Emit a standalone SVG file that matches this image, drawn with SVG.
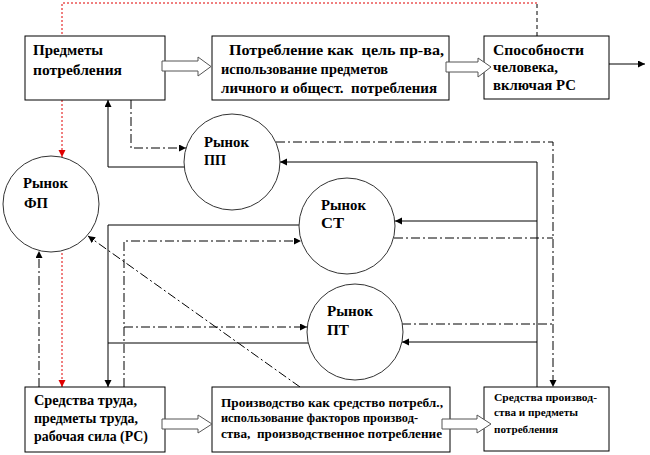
<svg xmlns="http://www.w3.org/2000/svg" width="650" height="455" viewBox="0 0 650 455">
<defs>
<marker id="ah" markerUnits="userSpaceOnUse" markerWidth="8" markerHeight="8" refX="7" refY="3.5" orient="auto"><path d="M0,0 L7,3.5 L0,7 z" fill="#000"/></marker>
<marker id="ahr" markerUnits="userSpaceOnUse" markerWidth="8" markerHeight="8" refX="7" refY="3.5" orient="auto"><path d="M0,0 L7,3.5 L0,7 z" fill="#e00000"/></marker>
<style>
.box{fill:#fff;stroke:#000;stroke-width:1}
.mk{fill:#fff;stroke:#333;stroke-width:1}
text{font-family:'Liberation Serif','DejaVu Serif',serif;font-weight:bold;fill:#000}
.t15{font-size:15px}
.t14{font-size:14px}
.t12{font-size:12px}
.t10{font-size:10.5px}
.ln{fill:none;stroke:#000;stroke-width:1}
.dd{fill:none;stroke:#000;stroke-width:1;stroke-dasharray:9,3,2,3}
.red{fill:none;stroke:#e00000;stroke-width:1;stroke-dasharray:2,2}
.dsh{fill:none;stroke:#000;stroke-width:1;stroke-dasharray:4,3}
.hol{fill:#fff;stroke:#555;stroke-width:1}
</style>
</defs>
<g id="connectors">
<path class="dsh" d="M537,36 V3"/>
<path class="red" d="M537,3 H62 V157" marker-end="url(#ahr)"/>
<path class="red" d="M62,253 V387" marker-end="url(#ahr)"/>
<path class="ln" d="M184,167 H108 V100" marker-end="url(#ah)"/>
<path class="dd" d="M131,100 V148 H186" marker-end="url(#ah)"/>
<path class="dd" d="M276,142 H553 V387" marker-end="url(#ah)"/>
<path class="ln" d="M537,387 V162 H280" marker-end="url(#ah)"/>
<path class="ln" d="M537,221 H395" marker-end="url(#ah)"/>
<path class="dd" d="M394,238 H553"/>
<path class="ln" d="M537,342 H402" marker-end="url(#ah)"/>
<path class="dd" d="M402,324 H553"/>
<path class="ln" d="M299,225 H108 V387" marker-end="url(#ah)"/>
<path class="ln" d="M308,343 H108"/>
<path class="dd" d="M124,387 V241 H301" marker-end="url(#ah)"/>
<path class="dd" d="M124,327 H307" marker-end="url(#ah)"/>
<path class="dd" d="M39,387 V251" marker-end="url(#ah)"/>
<path class="dd" d="M300,387 L88,236" marker-end="url(#ah)"/>
<path class="ln" d="M609,64 H645" marker-end="url(#ah)"/>
</g>
<g id="box-predmety">
<rect class="box" x="25" y="36" width="140" height="64"/>
<text class="t15" x="33" y="55" textLength="70" lengthAdjust="spacingAndGlyphs">Предметы</text>
<text class="t15" x="33" y="75" textLength="89" lengthAdjust="spacingAndGlyphs">потребления</text>
</g>
<g id="box-potreblenie">
<rect class="box" x="212" y="36" width="237" height="64"/>
<text class="t15" x="229" y="55" textLength="215" lengthAdjust="spacingAndGlyphs" xml:space="preserve">Потребление как  цель пр-ва,</text>
<text class="t15" x="221" y="74" textLength="167" lengthAdjust="spacingAndGlyphs">использование предметов</text>
<text class="t15" x="221" y="93" textLength="216" lengthAdjust="spacingAndGlyphs" xml:space="preserve">личного и общест.  потребления</text>
</g>
<g id="box-sposobnosti">
<rect class="box" x="484" y="36" width="125" height="63"/>
<text class="t15" x="493" y="55" textLength="91" lengthAdjust="spacingAndGlyphs">Способности</text>
<text class="t15" x="493" y="72" textLength="65" lengthAdjust="spacingAndGlyphs">человека,</text>
<text class="t15" x="493" y="90" textLength="83" lengthAdjust="spacingAndGlyphs">включая РС</text>
</g>
<g id="box-sredstva-truda">
<rect class="box" x="25" y="387" width="140" height="65"/>
<text class="t14" x="34" y="405" textLength="103" lengthAdjust="spacingAndGlyphs">Средства труда,</text>
<text class="t14" x="34" y="423" textLength="104" lengthAdjust="spacingAndGlyphs">предметы труда,</text>
<text class="t14" x="34" y="441" textLength="114" lengthAdjust="spacingAndGlyphs">рабочая сила (РС)</text>
</g>
<g id="box-proizvodstvo">
<rect class="box" x="212" y="387" width="238" height="65"/>
<text class="t12" x="221" y="407" textLength="222" lengthAdjust="spacingAndGlyphs">Производство как средство потребл.,</text>
<text class="t12" x="221" y="422" textLength="197" lengthAdjust="spacingAndGlyphs">использование факторов производ-</text>
<text class="t12" x="221" y="438" textLength="221" lengthAdjust="spacingAndGlyphs" xml:space="preserve">ства,  производственное потребление</text>
</g>
<g id="box-sredstva-proizvodstva">
<rect class="box" x="484" y="387" width="125" height="64"/>
<text class="t10" x="494" y="401" textLength="103" lengthAdjust="spacingAndGlyphs">Средства производ-</text>
<text class="t10" x="494" y="416" textLength="84" lengthAdjust="spacingAndGlyphs">ства и предметы</text>
<text class="t10" x="494" y="433" textLength="64" lengthAdjust="spacingAndGlyphs">потребления</text>
</g>
<g id="arrows-hollow">
<polygon class="hol" points="162,61 198,61 198,57 211,66.5 198,76 198,71 162,71"/>
<polygon class="hol" points="446,62 478,62 478,58 491,67 478,77 478,72 446,72"/>
<polygon class="hol" points="162,419 198,419 198,415 212,424 198,433 198,429 162,429"/>
<polygon class="hol" points="442,419 477,419 477,415 491,424 477,433 477,429 442,429"/>
</g>
<g id="market-fp">
<circle class="mk" cx="51" cy="204" r="48"/>
<text class="t15" x="23" y="188" textLength="45" lengthAdjust="spacingAndGlyphs">Рынок</text>
<text class="t15" x="24" y="208" textLength="24" lengthAdjust="spacingAndGlyphs">ФП</text>
</g>
<g id="market-pp">
<circle class="mk" cx="232" cy="162" r="48"/>
<text class="t15" x="204" y="147" textLength="45" lengthAdjust="spacingAndGlyphs">Рынок</text>
<text class="t15" x="204" y="165" textLength="22" lengthAdjust="spacingAndGlyphs">ПП</text>
</g>
<g id="market-st">
<circle class="mk" cx="347" cy="226" r="48"/>
<text class="t15" x="321" y="210" textLength="45" lengthAdjust="spacingAndGlyphs">Рынок</text>
<text class="t15" x="321" y="228" textLength="23" lengthAdjust="spacingAndGlyphs">СТ</text>
</g>
<g id="market-pt">
<circle class="mk" cx="355" cy="332" r="48"/>
<text class="t15" x="327" y="316" textLength="46" lengthAdjust="spacingAndGlyphs">Рынок</text>
<text class="t15" x="327" y="335" textLength="22" lengthAdjust="spacingAndGlyphs">ПТ</text>
</g>
</svg>
